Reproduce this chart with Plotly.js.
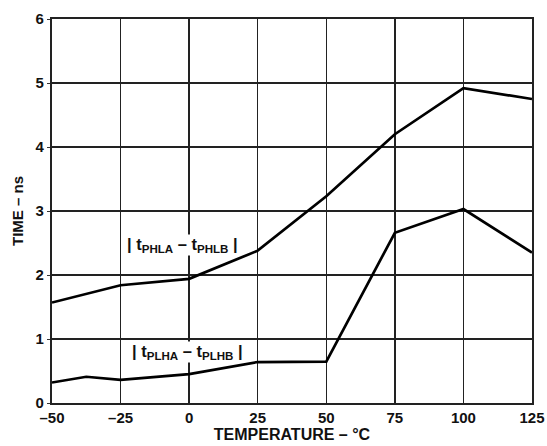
<!DOCTYPE html>
<html>
<head>
<meta charset="utf-8">
<script src="https://cdn.plot.ly/plotly-3.0.1.min.js"></script>
<style>html,body{margin:0;padding:0;background:#fff;}#chart{width:547px;height:446px;}</style>
</head>
<body>
<div id="chart"></div>
<script>
const temperature = [-50, -37.5, -25, 0, 25, 50, 75, 100, 125];
const tempPHL = [-50, -25, 0, 25, 50, 75, 100, 125];
const phlSkew = [1.57, 1.84, 1.94, 2.38, 3.23, 4.2, 4.92, 4.75];
const plhSkew = [0.32, 0.41, 0.36, 0.45, 0.64, 0.645, 2.66, 3.03, 2.35];
const xTickVals = [-50, -25, 0, 25, 50, 75, 100, 125];
const xTickText = ['–50', '–25', '0', '25', '50', '75', '100', '125'];
const yTickVals = [0, 1, 2, 3, 4, 5, 6];
const labelPHL = '| t<sub>PHLA</sub> – t<sub>PHLB</sub> |';
const labelPLH = '| t<sub>PLHA</sub> – t<sub>PLHB</sub> |';

const fontFam = 'Liberation Sans, Arial, sans-serif';

const traces = [
  {x: tempPHL, y: phlSkew, mode: 'lines', line: {color: '#000', width: 2.7}, hoverinfo: 'none'},
  {x: temperature, y: plhSkew, mode: 'lines', line: {color: '#000', width: 2.7}, hoverinfo: 'none'}
];

const layout = {
  width: 547, height: 446,
  margin: {l: 52, r: 15, t: 19, b: 43},
  paper_bgcolor: '#fff', plot_bgcolor: '#fff',
  showlegend: false,
  font: {family: fontFam, color: '#111', size: 14, weight: 'bold'},
  xaxis: {
    range: [-50, 125], tickvals: xTickVals, ticktext: xTickText,
    showgrid: true, gridcolor: '#222', gridwidth: 1.5,
    zeroline: false, showline: true, mirror: true, linecolor: '#222', linewidth: 2.2,
    ticks: '', ticklen: 0,
    tickfont: {family: fontFam, size: 15, color: '#111', weight: 'bold'},
    title: {text: 'TEMPERATURE – °C', font: {family: fontFam, size: 16, color: '#111', weight: 'bold'}, standoff: 2}
  },
  yaxis: {
    range: [0, 6], tickvals: yTickVals,
    showgrid: true, gridcolor: '#222', gridwidth: 1.5,
    zeroline: false, showline: true, mirror: true, linecolor: '#222', linewidth: 2.2,
    ticks: 'outside', ticklen: 3, tickcolor: '#333',
    tickfont: {family: fontFam, size: 15, color: '#111', weight: 'bold'},
    title: {text: 'TIME – ns', font: {family: fontFam, size: 15, color: '#111', weight: 'bold'}, standoff: 8}
  },
  annotations: [
    {x: -2.5, y: 2.47, xref: 'x', yref: 'y', text: labelPHL, showarrow: false,
     bgcolor: '#fff', borderpad: 0, font: {family: fontFam, size: 16.5, color: '#111', weight: 'bold'}},
    {x: -0.7, y: 0.79, xref: 'x', yref: 'y', text: labelPLH, showarrow: false,
     bgcolor: '#fff', borderpad: 0, font: {family: fontFam, size: 16.5, color: '#111', weight: 'bold'}}
  ]
};

Plotly.newPlot('chart', traces, layout, {displayModeBar: false, staticPlot: true});
</script>
</body>
</html>
